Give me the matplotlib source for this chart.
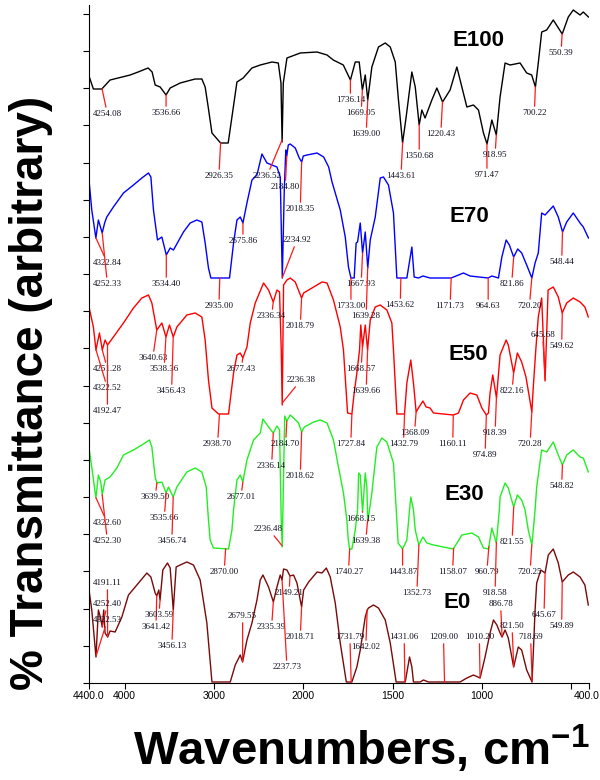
import numpy as np
import matplotlib.pyplot as plt
from matplotlib.transforms import ScaledTranslation

plt.rcParams['font.family'] = ['Liberation Sans', 'DejaVu Sans']
plt.rcParams['mathtext.fontset'] = 'custom'
plt.rcParams['mathtext.rm'] = 'Liberation Sans'
plt.rcParams['mathtext.bf'] = 'Liberation Sans:bold'

# ---- spectra (wavenumber, arbitrary transmittance, stacked) ----
e100_wn = [4400, 4351, 4257, 4164, 3939, 3850, 3738, 3693, 3659, 3603,
           3537, 3491, 3379, 3211, 3136, 3099, 3065, 3023, 2926, 2841,
           2788, 2743, 2673, 2575, 2482, 2351, 2280, 2250, 2237, 2224,
           2183, 2034, 1923, 1867, 1832, 1776, 1736, 1709, 1687, 1669,
           1653, 1639, 1616, 1579, 1541, 1513, 1485, 1467, 1444, 1424,
           1392, 1373, 1351, 1336, 1318, 1280, 1252, 1220, 1178, 1140,
           1112, 1084, 1047, 1019, 991, 971, 944, 919, 898, 870,
           842, 786, 749, 721, 700, 684, 665, 637, 600, 550,
           516, 488, 450, 432, 403]
e100_t = [607, 594, 594, 603, 608, 611, 615, 611, 598, 596,
          588, 595, 600, 604, 604, 596, 576, 550, 540, 540,
          573, 601, 605, 615, 618, 621, 620, 600, 541, 600,
          625, 630, 631, 628, 623, 618, 603, 621, 621, 593,
          608, 583, 616, 636, 640, 636, 621, 583, 540, 566,
          611, 596, 558, 573, 565, 583, 595, 581, 593, 616,
          596, 576, 578, 573, 550, 539, 563, 548, 586, 620,
          618, 620, 610, 608, 596, 620, 651, 653, 663, 649,
          666, 673, 668, 671, 666]

e70_wn = [4400, 4369, 4323, 4295, 4252, 4225, 4201, 4127, 4014, 3902,
          3808, 3734, 3707, 3678, 3633, 3584, 3534, 3491, 3454, 3342,
          3267, 3192, 3136, 3099, 3062, 3035, 2935, 2826, 2781, 2743,
          2706, 2676, 2631, 2575, 2519, 2463, 2407, 2351, 2295, 2258,
          2235, 2213, 2196, 2185, 2168, 2146, 2090, 2045, 2018, 2000,
          1979, 1923, 1886, 1858, 1839, 1793, 1765, 1747, 1733, 1715,
          1704, 1696, 1681, 1668, 1653, 1639, 1625, 1597, 1569, 1551,
          1523, 1495, 1476, 1454, 1420, 1392, 1379, 1355, 1330, 1290,
          1172, 1103, 1066, 965, 944, 907, 888, 864, 846, 822,
          799, 777, 749, 720, 702, 684, 665, 646, 600, 572,
          548, 525, 488, 450, 432, 403]
e70_t = [503, 473, 445, 463, 450, 460, 466, 476, 490, 498,
         505, 510, 506, 473, 443, 446, 428, 435, 433, 451,
         460, 463, 461, 440, 415, 405, 405, 405, 440, 463,
         466, 460, 480, 503, 508, 529, 520, 518, 516, 506,
         405, 493, 533, 527, 538, 539, 535, 525, 521, 527,
         528, 530, 526, 516, 501, 473, 446, 416, 405, 405,
         440, 441, 460, 430, 451, 415, 443, 466, 505, 506,
         498, 470, 405, 405, 405, 436, 406, 405, 407, 405,
         405, 410, 407, 405, 407, 405, 426, 443, 438, 426,
         434, 430, 418, 405, 420, 430, 470, 468, 477, 466,
         451, 461, 470, 460, 456, 445]

e50_wn = [4400, 4351, 4322, 4283, 4251, 4220, 4192, 4127, 4014, 3902,
          3808, 3734, 3696, 3641, 3584, 3538, 3499, 3456, 3416, 3304,
          3211, 3136, 3099, 3062, 3023, 2949, 2837, 2781, 2743, 2706,
          2677, 2631, 2594, 2538, 2445, 2389, 2336, 2295, 2266, 2247,
          2236, 2221, 2183, 2146, 2090, 2019, 1998, 1942, 1895, 1867,
          1831, 1793, 1775, 1752, 1728, 1715, 1700, 1685, 1678, 1668,
          1653, 1640, 1625, 1597, 1569, 1532, 1504, 1495, 1476, 1433,
          1420, 1398, 1383, 1368, 1355, 1330, 1312, 1290, 1271, 1160,
          1131, 1103, 1066, 1028, 1000, 975, 963, 954, 939, 918,
          898, 864, 852, 822, 801, 777, 753, 720, 712, 698,
          684, 665, 646, 629, 600, 572, 550, 525, 488, 450,
          423, 404]
e50_t = [376, 356, 333, 350, 333, 343, 338, 346, 360, 375,
         385, 388, 380, 353, 360, 346, 358, 346, 356, 368,
         370, 366, 343, 303, 275, 269, 269, 310, 328, 330,
         325, 336, 360, 380, 400, 393, 381, 393, 391, 333,
         278, 398, 403, 405, 401, 385, 390, 396, 401, 400,
         383, 356, 333, 270, 269, 290, 310, 333, 358, 336,
         358, 333, 363, 376, 378, 373, 360, 333, 269, 269,
         300, 323, 300, 271, 275, 282, 276, 275, 270, 268,
         270, 283, 290, 288, 275, 268, 270, 290, 308, 285,
         328, 343, 338, 310, 330, 321, 306, 271, 296, 333,
         366, 385, 302, 393, 396, 386, 370, 380, 385, 381,
         376, 366]

e30_wn = [4400, 4369, 4323, 4295, 4268, 4252, 4220, 4164, 4088, 4014,
          3902, 3808, 3723, 3696, 3659, 3640, 3584, 3536, 3510, 3457,
          3416, 3304, 3211, 3136, 3087, 3062, 3043, 3006, 2837, 2799,
          2781, 2743, 2706, 2677, 2631, 2557, 2482, 2452, 2389, 2336,
          2295, 2266, 2247, 2236, 2208, 2185, 2146, 2109, 2053,
          2019, 1994, 1942, 1905, 1867, 1831, 1803, 1775, 1756, 1748,
          1741, 1728, 1709, 1696, 1690, 1681, 1668, 1653, 1644, 1639,
          1616, 1588, 1560, 1532, 1495, 1476, 1469, 1444, 1420, 1405,
          1398, 1383, 1373, 1353, 1330, 1308, 1271, 1160, 1112, 1056,
          1019, 991, 963, 944, 919, 902, 898, 870, 852, 822,
          801, 777, 758, 740, 720, 712, 702, 693, 665, 637,
          600, 572, 549, 525, 488, 450, 432, 404]
e30_t = [235, 216, 185, 208, 201, 188, 203, 206, 215, 228,
         233, 238, 243, 236, 206, 200, 201, 190, 196, 186,
         196, 211, 215, 211, 196, 163, 143, 135, 134, 153,
         173, 203, 208, 201, 223, 243, 250, 264, 256, 250,
         257, 253, 163, 136, 267, 262, 268, 265, 260,
         251, 256, 261, 263, 260, 243, 216, 190, 163, 143,
         134, 134, 153, 173, 210, 208, 171, 210, 196, 161,
         190, 236, 245, 241, 220, 163, 140, 134, 143, 173,
         186, 173, 153, 138, 146, 140, 138, 134, 148, 150,
         146, 135, 134, 155, 140, 173, 186, 200, 195, 176,
         188, 183, 173, 153, 138, 153, 173, 196, 233, 231,
         241, 228, 218, 228, 233, 226, 225, 211]

e0_wn = [4400, 4369, 4322, 4295, 4270, 4252, 4235, 4220, 4191, 4164,
         4107, 4032, 3958, 3864, 3752, 3707, 3659, 3641, 3618, 3604,
         3573, 3521, 3491, 3456, 3424, 3379, 3304, 3230, 3155, 3080,
         3023, 2818, 2762, 2706, 2680, 2631, 2575, 2519, 2482, 2452,
         2389, 2335, 2295, 2258, 2238, 2221, 2183, 2149, 2109, 2071,
         2019, 1998, 1970, 1923, 1895, 1871, 1849, 1821, 1793, 1759,
         1728, 1700, 1681, 1653, 1642, 1635, 1607, 1579, 1541, 1513,
         1480, 1429, 1405, 1392, 1383, 1346, 1327, 1299, 1122, 1084,
         1047, 1010, 982, 954, 935, 916, 898, 887, 870, 852,
         822, 796, 777, 749, 719, 712, 702, 693, 670, 646,
         628, 600, 572, 550, 516, 488, 450, 423, 404]
e0_t = [93, 73, 26, 73, 65, 56, 73, 50, 46, 52,
        51, 66, 88, 98, 110, 106, 90, 87, 93, 83,
        113, 120, 115, 73, 116, 118, 121, 118, 103, 60,
        1, 1, 18, 28, 21, 43, 60, 83, 103, 108,
        96, 81, 96, 108, 103, 114, 113, 107, 108, 100,
        76, 93, 101, 111, 110, 115, 106, 80, 40, 1,
        1, 16, 33, 66, 73, 75, 78, 75, 63, 40,
        1, 1, 26, 16, 1, 1, 3, 1, 1, 5,
        8, 5, 26, 50, 63, 58, 50, 46, 53, 45,
        16, 36, 33, 13, 1, 30, 73, 100, 113, 110,
        128, 134, 120, 101, 108, 111, 106, 98, 78]

# ---- peak labels (text = peak wavenumber) ----
e100_peaks = ['4254.08', '3536.66', '2926.35', '2236.52', '1736.14', '1669.05', '1639.00',
              '1443.61', '1350.68', '1220.43', '971.47', '918.95', '700.22', '550.39']
e70_peaks = ['4322.84', '4252.33', '3534.40', '2935.00', '2675.86', '2234.92', '2184.80',
             '2018.35', '1733.00', '1667.93', '1639.28', '1453.62', '1171.73', '964.63',
             '821.86', '720.20', '548.44']
e50_peaks = ['4251.28', '4322.52', '4192.47', '3640.63', '3538.36', '3456.43', '2938.70',
             '2677.43', '2336.34', '2018.79', '2236.38', '1727.84', '1668.57', '1639.66',
             '1432.79', '1368.09', '1160.11', '974.89', '918.39', '822.16', '720.28',
             '645.68', '549.62']
e30_peaks = ['4322.60', '4252.30', '3639.50', '3535.66', '3456.74', '2870.00', '2677.01',
             '2336.14', '2184.70', '2018.62', '2236.48', '1740.27', '1668.15', '1639.38',
             '1443.87', '1352.73', '1158.07', '960.79', '918.58', '821.55', '720.25', '548.82']
e0_peaks = ['4191.11', '4252.40', '4322.53', '3641.42', '3603.59', '3456.13', '2679.55',
            '2335.39', '2149.21', '2237.73', '2018.71', '1731.79', '1642.02', '1431.06',
            '1209.00', '1010.20', '886.78', '821.50', '718.69', '645.67', '549.89']

# label anchor (wavenumber, height); None = directly above/below the peak
e100_lab_x = [4194, None, 2945, 2407, None, 1676, 1648, 1453, None, 1230, None, 926, 706, 557]
e100_lab_y = [569, 570, 507, 507, 583, 570, 549, 507, 527, 549, 508, 528, 570, 630]
e70_lab_x = [4194, 4194, None, 2945, None, 2071, 2202, 2034, None, 1676, 1648, 1457, 1178,
             None, 833, 734, 553]
e70_lab_y = [420, 399, 399, 377, 442, 443, 496, 474, 377, 399, 367, 378, 377, 377, 399, 377, 421]
e50_lab_x = [4194, 4194, 4194, 3686, 3559, 3475, 2960, 2695, 2355, 2034, 2026, 1734, 1676,
             1648, 1439, 1377, 1163, 982, 926, 831, 730, 659, 553]
e50_lab_y = [314, 295, 272, 325, 314, 292, 239, 314, 367, 357, 303, 239, 314, 292, 239, 250,
             239, 228, 250, 292, 239, 348, 337]
e30_lab_x = [4194, 4194, 3659, 3558, 3472, 2886, 2698, 2355, 2198, 2034, 2389, 1747, 1676,
             1650, None, 1364, 1164, 972, 926, 831, 730, 553]
e30_lab_y = [160, 142, 186, 165, 142, 111, 186, 217, 239, 207, 154, 111, 164, 142, 111, 90,
             111, 111, 90, 141, 111, 197]
e0_lab_x = [4194, 4194, 4194, 3650, 3617, 3472, None, 2355, 2159, 2183, 2034, 1739, 1650,
            1435, 1215, 1014, 895, 831, 727, 652, 553]
e0_lab_y = [100, 79, 63, 56, 68, 37, 67, 56, 90, 16, 46, 46, 36, 46, 46, 46, 79, 57, 46, 68, 57]

samples = ['E100', 'E70', 'E50', 'E30', 'E0']
sample_x = [1021, 1071, 1077, 1099, 1139]
sample_y = [642, 467, 329, 188, 81]
colors = ['#000000', '#0000ff', '#ff0000', '#22ee22', '#7a0a0a']

spectra = [(e100_wn, e100_t, e100_peaks, e100_lab_x, e100_lab_y),
           (e70_wn, e70_t, e70_peaks, e70_lab_x, e70_lab_y),
           (e50_wn, e50_t, e50_peaks, e50_lab_x, e50_lab_y),
           (e30_wn, e30_t, e30_peaks, e30_lab_x, e30_lab_y),
           (e0_wn, e0_t, e0_peaks, e0_lab_x, e0_lab_y)]


# FTIR style axis: region above 2000 cm-1 compressed by 2
def fwd(w):
    w = np.asarray(w, dtype=float)
    return np.where(w > 2000, 2000 + (w - 2000) / 2.0, w)


def inv(t):
    t = np.asarray(t, dtype=float)
    return np.where(t > 2000, 2000 + (t - 2000) * 2.0, t)


fig = plt.figure(figsize=(6, 7.8), dpi=100)
ax = fig.add_axes([89 / 600, 97 / 780, 500 / 600, 678 / 780])
ax.set_xscale('function', functions=(fwd, inv))
ax.set_xlim(4400, 400)
ax.set_ylim(0, 678)

for (wn, t, peaks, lx, ly), c in zip(spectra, colors):
    ax.plot(wn, t, color=c, lw=1.0, zorder=2)
    wa = np.array(wn[::-1], dtype=float)
    ta = np.array(t[::-1], dtype=float)
    for p, x, y in zip(peaks, lx, ly):
        pw = float(p)
        py = np.interp(pw, wa, ta)
        tx = pw if x is None else x
        ax.annotate(p, xy=(pw, py), xytext=(tx, y), textcoords='data',
                    ha='center', va='center', fontsize=6.5,
                    family=['Liberation Serif', 'DejaVu Serif'], color='#111122',
                    arrowprops=dict(arrowstyle='-', color='#ff1a1a', lw=0.9,
                                    shrinkA=0, shrinkB=0),
                    zorder=3)

for name, x, y in zip(samples, sample_x, sample_y):
    ax.text(x, y, name, fontsize=16, fontweight='bold', ha='center', va='center')

for s in ['top', 'right']:
    ax.spines[s].set_visible(False)

ax.set_xticks([4400, 4000, 3000, 2000, 1500, 1000, 500, 400])
ax.set_xticklabels(['4400.0', '4000', '3000', '2000', '1500', '1000', '', '400.0'])
ax.set_yticks(np.arange(0, 670, 37.17))
ax.set_yticklabels([])
ax.tick_params(axis='x', labelsize=7.5, length=4, pad=2)
ax.tick_params(axis='y', length=4, direction='out')

# keep the last tick label inside the canvas
last = ax.get_xticklabels()[-1]
last.set_horizontalalignment('right')
last.set_transform(last.get_transform() + ScaledTranslation(8 / 72, 0, fig.dpi_scale_trans))

fig.text(31 / 600, 1 - 393 / 780, '% Transmittance (arbitrary)', rotation=90,
         fontsize=33, fontweight='bold', ha='center', va='center')
fig.text(133 / 600, 15 / 780, r'Wavenumbers, cm$^{\mathbf{-1}}$',
         fontsize=34, fontweight='bold', ha='left', va='baseline')

fig.savefig('out.png', dpi=100)
